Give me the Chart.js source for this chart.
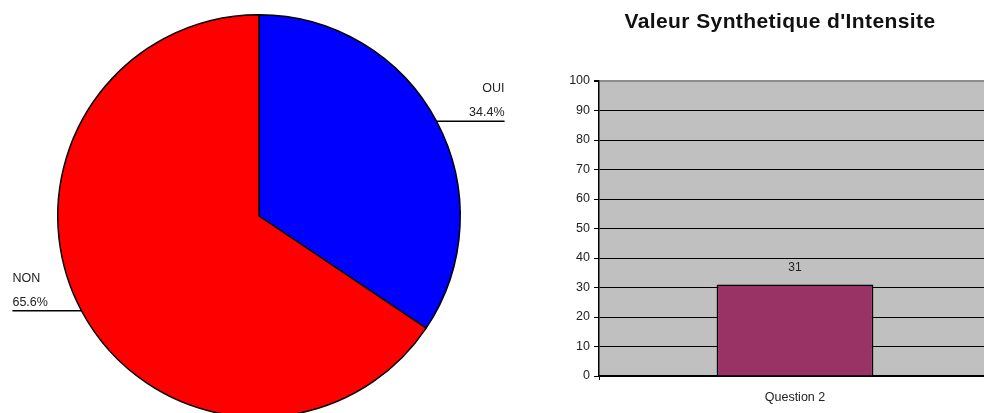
<!DOCTYPE html>
<html>
<head>
<meta charset="utf-8">
<script src="https://cdn.jsdelivr.net/npm/chart.js@4/dist/chart.umd.min.js"></script>
<style>
  html, body { margin: 0; padding: 0; background: #fff; overflow: hidden; width: 984px; height: 413px; }
  #pie { position: absolute; left: 0; top: 0; }
  #bar { position: absolute; left: 520px; top: 0; }
</style>
</head>
<body>
<canvas id="pie" width="518" height="432"></canvas>
<canvas id="bar" width="520" height="413"></canvas>
<script>
// pie: answers
const pieLabels = ['OUI', 'NON'];
const piePercents = [34.4, 65.6];
const pieColors = ['#0000ff', '#ff0000'];

// bar: synthetic intensity value
const barTitle = "Valeur Synthetique d'Intensite";
const barLabels = ['Question 2'];
const barValues = [31];
const yTicks = [0, 10, 20, 30, 40, 50, 60, 70, 80, 90, 100];

const FONT = "'Liberation Sans', Arial, sans-serif";

// leader lines + labels outside the pie, anchored at each slice's mid angle
const pieCallouts = {
    id: 'pieCallouts',
    afterDraw(chart) {
        const ctx = chart.ctx;
        const arcs = chart.getDatasetMeta(0).data;
        ctx.save();
        ctx.font = '12.5px ' + FONT;
        ctx.fillStyle = '#222';
        ctx.strokeStyle = '#000';
        ctx.lineWidth = 1.5;
        arcs.forEach((arc, i) => {
            const p = arc.getProps(['x', 'y', 'startAngle', 'endAngle', 'outerRadius'], true);
            const mid = (p.startAngle + p.endAngle) / 2;
            const px = p.x + Math.cos(mid) * p.outerRadius;
            const py = p.y + Math.sin(mid) * p.outerRadius;
            const right = Math.cos(mid) > 0;
            const ex = right ? px + 68 : px - 69;
            ctx.beginPath();
            ctx.moveTo(px, py);
            ctx.lineTo(ex, py);
            ctx.stroke();
            ctx.textAlign = right ? 'right' : 'left';
            ctx.textBaseline = 'alphabetic';
            ctx.fillText(piePercents[i].toFixed(1) + '%', ex, py - 5);
            ctx.fillText(pieLabels[i], ex, py - 29);
        });
        ctx.restore();
    }
};

new Chart(document.getElementById('pie'), {
    type: 'pie',
    data: {
        labels: pieLabels,
        datasets: [{
            data: piePercents,
            backgroundColor: pieColors,
            borderColor: '#000',
            borderWidth: 1.5
        }]
    },
    options: {
        responsive: false,
        animation: false,
        devicePixelRatio: 1,
        layout: { padding: { top: 14, bottom: 14, left: 0, right: 0 } },
        plugins: { legend: { display: false }, tooltip: { enabled: false } }
    },
    plugins: [pieCallouts]
});

// grey plot area, title and the value label above the bar
const barExtras = {
    id: 'barExtras',
    beforeDraw(chart) {
        const { ctx, chartArea: a } = chart;
        ctx.save();
        ctx.fillStyle = '#c0c0c0';
        ctx.fillRect(a.left, a.top, a.right - a.left, a.bottom - a.top);
        ctx.restore();
    },
    afterDraw(chart) {
        const ctx = chart.ctx;
        ctx.save();
        ctx.font = 'bold 21px ' + FONT;
        ctx.fillStyle = '#111';
        ctx.textAlign = 'center';
        ctx.textBaseline = 'alphabetic';
        ctx.letterSpacing = '0.4px';
        ctx.fillText(barTitle, chart.width / 2, 28);
        ctx.letterSpacing = '0px';
        ctx.font = '12px ' + FONT;
        ctx.fillStyle = '#222';
        chart.getDatasetMeta(0).data.forEach((bar, i) => {
            ctx.fillText(String(barValues[i]), bar.x, bar.y - 14);
        });
        ctx.restore();
    }
};

new Chart(document.getElementById('bar'), {
    type: 'bar',
    data: {
        labels: barLabels,
        datasets: [{
            data: barValues,
            backgroundColor: '#993366',
            borderColor: '#000',
            borderWidth: 1.5,
            barPercentage: 0.4,
            categoryPercentage: 1
        }]
    },
    options: {
        responsive: false,
        animation: false,
        devicePixelRatio: 1,
        layout: { padding: { top: 81, right: 49, bottom: 0, left: 0 } },
        plugins: { legend: { display: false }, tooltip: { enabled: false }, title: { display: false } },
        scales: {
            x: {
                offset: true,
                grid: { display: true, offset: true, drawOnChartArea: false, drawTicks: true, tickLength: 4, color: '#000' },
                border: { color: '#000', width: 1.5 },
                ticks: { color: '#222', font: { family: FONT, size: 12.5 }, padding: 10 },
                afterFit(scale) { scale.height = 37; }
            },
            y: {
                min: 0,
                max: 100,
                afterBuildTicks(scale) { scale.ticks = yTicks.map(v => ({ value: v })); },
                grid: {
                    color: ctx => ctx.tick && ctx.tick.value === 100 ? '#8c8c8c' : '#000',
                    lineWidth: ctx => ctx.tick && ctx.tick.value === 100 ? 2 : 1,
                    tickColor: '#000',
                    tickLength: 5
                },
                border: { color: '#000', width: 1.5 },
                ticks: { color: '#222', font: { family: FONT, size: 12.5 }, padding: 4 },
                afterFit(scale) { scale.width = 79; }
            }
        }
    },
    plugins: [barExtras]
});
</script>
</body>
</html>
